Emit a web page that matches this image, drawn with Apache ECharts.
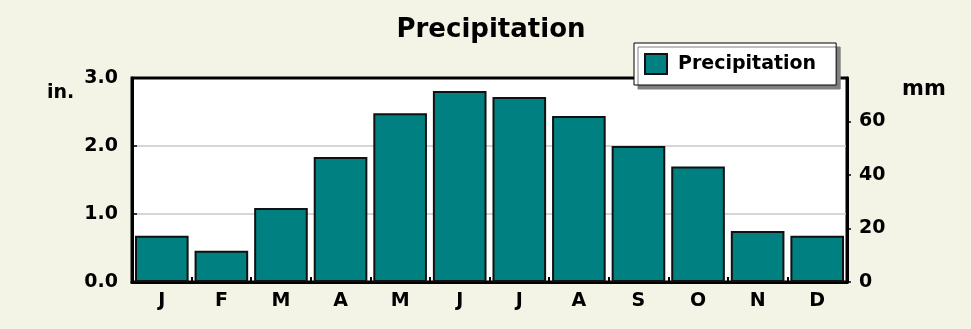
<!DOCTYPE html>
<html>
<head>
<meta charset="utf-8">
<script src="https://cdn.jsdelivr.net/npm/echarts@6/dist/echarts.min.js"></script>
<style>
  html, body { margin: 0; padding: 0; background: #F4F4E6; }
  #chart { width: 971px; height: 329px; }
</style>
</head>
<body>
<div id="chart"></div>
<script>
// Monthly precipitation (inches); right axis shows the same scale in millimetres
const months = ['J', 'F', 'M', 'A', 'M', 'J', 'J', 'A', 'S', 'O', 'N', 'D'];
const precipInches = [0.68, 0.46, 1.09, 1.84, 2.48, 2.81, 2.72, 2.44, 2.00, 1.70, 0.75, 0.68];
const inchTicks = [0, 1, 2, 3];
const mmTicks = [0, 20, 40, 60];
const seriesName = 'Precipitation';

const MM_PER_INCH = 25.4;
const inMax = inchTicks[inchTicks.length - 1];
const FONT = '"DejaVu Sans", Verdana, sans-serif';

const chart = echarts.init(document.getElementById('chart'));
chart.setOption({
  backgroundColor: '#F4F4E6',
  animation: false,
  title: {
    text: seriesName,
    left: 491,
    textAlign: 'center',
    top: 17,
    padding: 0,
    textStyle: { fontFamily: FONT, fontWeight: 'bold', fontSize: 26, color: '#000' }
  },
  legend: {
    left: 634,
    top: 43,
    padding: [10, 20, 10, 10],
    backgroundColor: '#fff',
    borderColor: '#000',
    borderWidth: 1,
    borderRadius: 0,
    shadowColor: '#808080',
    shadowBlur: 0,
    shadowOffsetX: 4,
    shadowOffsetY: 4,
    itemWidth: 22,
    itemHeight: 20,
    icon: 'rect',
    textStyle: { fontFamily: FONT, fontWeight: 'bold', fontSize: 19, color: '#000', padding: [0, 0, 0, 6] },
    data: [seriesName]
  },
  grid: {
    left: 132, right: 124, top: 78, bottom: 47,
    show: true,
    backgroundColor: '#fff',
    borderColor: '#000',
    borderWidth: 3,
    containLabel: false
  },
  xAxis: {
    type: 'category',
    data: months,
    axisLine: { show: true, lineStyle: { color: '#000', width: 3 } },
    axisTick: { show: true, inside: true, length: 5, lineStyle: { color: '#000', width: 2 } },
    axisLabel: { fontFamily: FONT, fontWeight: 'bold', fontSize: 19, color: '#000', margin: 10 },
    splitLine: { show: false }
  },
  yAxis: [
    {
      type: 'value',
      min: inchTicks[0],
      max: inMax,
      interval: 1,
      axisLine: { show: true, lineStyle: { color: '#000', width: 3 } },
      axisTick: { show: true, inside: true, length: 5, lineStyle: { color: '#000', width: 1.5 } },
      axisLabel: {
        fontFamily: FONT, fontWeight: 'bold', fontSize: 19, color: '#000', margin: 14,
        formatter: v => v.toFixed(1)
      },
      splitLine: {
        show: true,
        showMinLine: false,
        showMaxLine: false,
        lineStyle: { color: '#c8c8c8', width: 1.5 }
      }
    },
    {
      type: 'value',
      position: 'right',
      min: mmTicks[0],
      max: inMax * MM_PER_INCH,
      interval: 20,
      axisLine: { show: true, lineStyle: { color: '#000', width: 3 } },
      axisTick: { show: true, inside: false, length: 4, lineStyle: { color: '#000', width: 1.5 } },
      axisLabel: {
        fontFamily: FONT, fontWeight: 'bold', fontSize: 19, color: '#000', margin: 12,
        showMaxLabel: false,
        formatter: v => (mmTicks.indexOf(v) >= 0 ? String(v) : '')
      },
      splitLine: { show: false }
    }
  ],
  graphic: [
    {
      type: 'text', left: 47, top: 84,
      style: { text: 'in.', font: 'bold 19px ' + FONT, fill: '#000' }
    },
    {
      type: 'text', left: 902, top: 79,
      style: { text: 'mm', font: 'bold 21px ' + FONT, fill: '#000' }
    }
  ],
  series: [
    {
      name: seriesName,
      type: 'bar',
      yAxisIndex: 0,
      data: precipInches,
      barWidth: '90%',
      itemStyle: { color: '#008080', borderColor: '#111', borderWidth: 2 }
    }
  ]
});
</script>
</body>
</html>
